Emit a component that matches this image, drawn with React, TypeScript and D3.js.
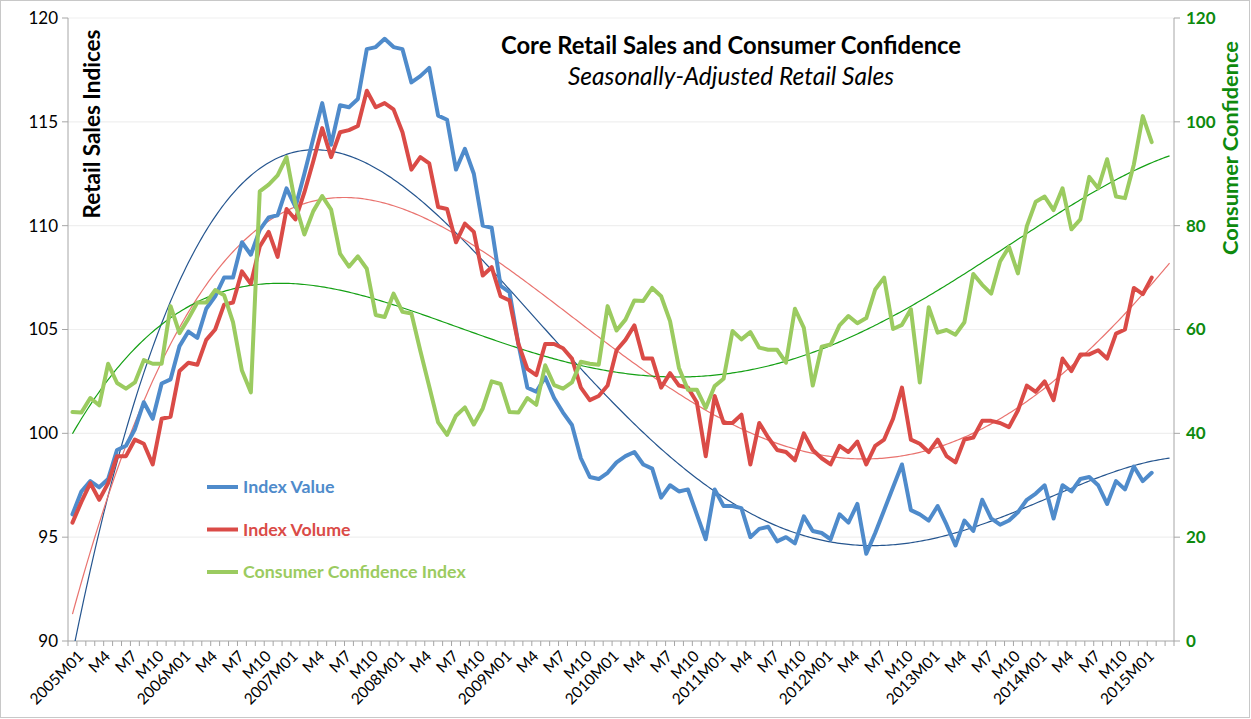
import { useEffect } from 'react'
import * as d3 from 'd3'

const W = 1251
const H = 719
const FONT = 'Lato, "Liberation Sans", Arial, sans-serif'

// 2005M01 .. 2015M04, data runs to 2015M02
const startYear = 2005
const nCats = 124
const categories = d3.range(nCats).map(i => `${startYear + Math.floor(i / 12)}M${String((i % 12) + 1).padStart(2, '0')}`)
const tickLabels = categories.map((c, i) =>
  i % 3 !== 0 || i > 120 ? '' : i % 12 === 0 ? c : `M${(i % 12) + 1}`)

const indexValue = [
  96.1, 97.2, 97.7, 97.4, 97.8, 99.2, 99.4, 100.2, 101.5, 100.7, 102.4, 102.6,
  104.2, 104.9, 104.6, 106.0, 106.6, 107.5, 107.5, 109.2, 108.6, 109.8, 110.4, 110.5,
  111.8, 110.9, 112.5, 114.2, 115.9, 113.9, 115.8, 115.7, 116.1, 118.5, 118.6, 119.0,
  118.6, 118.5, 116.9, 117.2, 117.6, 115.3, 115.1, 112.7, 113.7, 112.5, 110.0, 109.9,
  107.1, 106.8, 104.3, 102.2, 102.0, 102.7, 101.7, 101.0, 100.4, 98.8, 97.9, 97.8,
  98.1, 98.6, 98.9, 99.1, 98.5, 98.3, 96.9, 97.5, 97.2, 97.3, 96.1, 94.9,
  97.3, 96.5, 96.5, 96.4, 95.0, 95.4, 95.5, 94.8, 95.0, 94.7, 96.0, 95.3,
  95.2, 94.9, 96.1, 95.7, 96.6, 94.2, 95.2, 96.3, 97.4, 98.5, 96.3, 96.1,
  95.8, 96.5, 95.6, 94.6, 95.8, 95.3, 96.8, 95.9, 95.6, 95.8, 96.2, 96.8,
  97.1, 97.5, 95.9, 97.5, 97.2, 97.8, 97.9, 97.5, 96.6, 97.7, 97.3, 98.4,
  97.7, 98.1,
]

const indexVolume = [
  95.7, 96.7, 97.6, 96.8, 97.6, 98.9, 98.9, 99.7, 99.5, 98.5, 100.7, 100.8,
  103.0, 103.4, 103.3, 104.5, 105.0, 106.2, 106.3, 107.8, 107.2, 109.0, 109.7, 108.5,
  110.8, 110.3, 111.6, 113.1, 114.7, 113.3, 114.5, 114.6, 114.8, 116.5, 115.7, 115.9,
  115.6, 114.5, 112.7, 113.3, 113.0, 110.9, 110.8, 109.2, 110.1, 109.7, 107.6, 108.0,
  106.6, 106.4, 104.3, 103.1, 102.8, 104.3, 104.3, 104.1, 103.6, 102.2, 101.6, 101.8,
  102.3, 104.0, 104.5, 105.2, 103.6, 103.6, 102.2, 102.9, 102.3, 102.2, 101.5, 98.9,
  101.8, 100.5, 100.5, 100.9, 98.5, 100.5, 99.8, 99.2, 99.1, 98.7, 100.0, 99.2,
  98.8, 98.5, 99.4, 99.1, 99.6, 98.5, 99.4, 99.7, 100.7, 102.2, 99.7, 99.5,
  99.1, 99.7, 98.9, 98.6, 99.7, 99.8, 100.6, 100.6, 100.5, 100.3, 101.1, 102.3,
  102.0, 102.5, 101.6, 103.6, 103.0, 103.8, 103.8, 104.0, 103.6, 104.8, 105.0, 107.0,
  106.7, 107.5,
]

const consumerConfidence = [
  44.1, 44.0, 46.8, 45.4, 53.4, 49.7, 48.6, 49.8, 54.1, 53.4, 53.4, 64.5,
  59.3, 62.1, 65.2, 65.2, 67.6, 66.6, 61.4, 52.1, 47.9, 86.6, 87.9, 89.7,
  93.2, 84.1, 78.3, 82.8, 85.7, 83.1, 74.6, 72.1, 74.1, 71.7, 62.8, 62.4,
  66.9, 63.4, 63.1, 55.9, 49.0, 42.1, 39.7, 43.4, 45.0, 41.7, 44.8, 50.0,
  49.5, 44.1, 44.0, 46.8, 45.5, 53.1, 49.3, 48.6, 49.8, 53.8, 53.4, 53.2,
  64.5, 59.8, 61.9, 65.6, 65.5, 68.0, 66.4, 61.6, 52.6, 48.4, 48.4, 44.9,
  49.1, 50.5, 59.7, 58.1, 59.5, 56.5, 56.1, 56.1, 53.6, 64.0, 60.3, 49.2,
  56.7, 57.1, 60.8, 62.6, 61.2, 62.2, 67.7, 70.0, 60.1, 60.9, 63.9, 49.8,
  64.3, 59.4, 59.9, 59.0, 61.4, 70.7, 68.6, 66.9, 73.1, 75.9, 70.8, 79.9,
  84.6, 85.6, 83.0, 87.2, 79.3, 81.2, 89.4, 87.2, 92.8, 85.6, 85.3, 91.8,
  101.1, 96.1,
]

const leftTicks = [90, 95, 100, 105, 110, 115, 120]
const rightTicks = [0, 20, 40, 60, 80, 100, 120]

const series = [
  { name: 'Index Value', values: indexValue, axis: 'left', color: '#4F8BCB', trend: '#25558F' },
  { name: 'Index Volume', values: indexVolume, axis: 'left', color: '#DA4B47', trend: '#E9736F' },
  { name: 'Consumer Confidence Index', values: consumerConfidence, axis: 'right', color: '#9BCB60', trend: '#14A014' },
]

// least-squares polynomial, like Excel's polynomial trendline
function polyFit(ys: number[], order: number) {
  const n = order + 1
  const A = d3.range(n).map(() => new Array(n + 1).fill(0))
  ys.forEach((y, i) => {
    const x = (i + 1) / 100
    for (let r = 0; r < n; r++) {
      for (let c = 0; c < n; c++) A[r][c] += Math.pow(x, r + c)
      A[r][n] += y * Math.pow(x, r)
    }
  })
  for (let k = 0; k < n; k++) {
    let p = k
    for (let r = k + 1; r < n; r++) if (Math.abs(A[r][k]) > Math.abs(A[p][k])) p = r
    ;[A[k], A[p]] = [A[p], A[k]]
    for (let r = 0; r < n; r++) {
      if (r === k) continue
      const f = A[r][k] / A[k][k]
      for (let c = k; c <= n; c++) A[r][c] -= f * A[k][c]
    }
  }
  const coef = d3.range(n).map(k => A[k][n] / A[k][k])
  return (i: number) => coef.reduce((s, a, k) => s + a * Math.pow((i + 1) / 100, k), 0)
}

export default function App() {
  useEffect(() => { document.body.style.margin = '0' }, [])

  const m = { left: 68, right: 1174, top: 18, bottom: 641 }
  const x = d3.scaleBand<number>().domain(d3.range(nCats)).range([m.left, m.right])
  const cx = (i: number) => (x(0) ?? 0) + (i + 0.5) * x.step()
  const yL = d3.scaleLinear().domain([90, 120]).range([m.bottom, m.top])
  const yR = d3.scaleLinear().domain([0, 120]).range([m.bottom, m.top])

  const lineFor = (axis: string) => d3.line<number>()
    .x((_, i) => cx(i))
    .y(v => (axis === 'left' ? yL(v) : yR(v)))

  // trend forecast forward to the last category
  const trendPts = d3.range(0, nCats - 1 + 0.001, 0.25)

  return (
    <div style={{ position: 'absolute', left: 0, top: 0 }}>
      <svg width={W} height={H} style={{ display: 'block', fontFamily: FONT }}>
        <defs>
          <clipPath id="plot">
            <rect x={m.left} y={m.top} width={m.right - m.left} height={m.bottom - m.top} />
          </clipPath>
        </defs>
        <rect x={0.5} y={0.5} width={W - 2} height={H - 2} fill="#fff" stroke="#c8c8c8" />

        {/* gridlines */}
        {leftTicks.slice(1).map(t => (
          <line key={t} x1={m.left} x2={m.right} y1={yL(t)} y2={yL(t)} stroke="#efefef" strokeWidth={1.2} />
        ))}

        {/* axes */}
        <line x1={m.left} x2={m.left} y1={m.top} y2={m.bottom} stroke="#a6a6a6" />
        <line x1={m.right} x2={m.right} y1={m.top} y2={m.bottom} stroke="#a6a6a6" />
        <line x1={m.left} x2={m.right} y1={m.bottom} y2={m.bottom} stroke="#a6a6a6" />
        {leftTicks.map(t => (
          <g key={t}>
            <line x1={m.left - 6} x2={m.left} y1={yL(t)} y2={yL(t)} stroke="#a6a6a6" />
            <text x={58} y={yL(t)} dy="0.35em" textAnchor="end" fontSize={17} fill="#000">{t}</text>
          </g>
        ))}
        {rightTicks.map(t => (
          <g key={t}>
            <line x1={m.right} x2={m.right + 6} y1={yR(t)} y2={yR(t)} stroke="#a6a6a6" />
            <text x={1186} y={yR(t)} dy="0.35em" fontSize={17} fontWeight="bold" fill="#0E8A0E">{t}</text>
          </g>
        ))}
        {d3.range(nCats + 1).map(i => {
          const xx = m.left + i * x.step()
          return <line key={i} x1={xx} x2={xx} y1={m.bottom} y2={m.bottom + 5} stroke="#a6a6a6" />
        })}
        {tickLabels.map((lab, i) => lab && (
          <text key={i} transform={`translate(${cx(i) + 4},${m.bottom + 8}) rotate(-45)`}
            textAnchor="end" dy="0.75em" fontSize={15.5} fill="#000">{lab}</text>
        ))}

        {/* trendlines */}
        <g clipPath="url(#plot)">
          {series.map(s => {
            const f = polyFit(s.values, 4)
            const sc = s.axis === 'left' ? yL : yR
            const path = d3.line<number>().x(t => cx(t)).y(t => sc(f(t)))(trendPts)
            return <path key={s.name} d={path ?? ''} fill="none" stroke={s.trend} strokeWidth={1.2} />
          })}
        </g>

        {/* series */}
        <g clipPath="url(#plot)">
          {series.map(s => (
            <path key={s.name} d={lineFor(s.axis)(s.values) ?? ''} fill="none" stroke={s.color}
              strokeWidth={4} strokeLinejoin="round" strokeLinecap="round" />
          ))}
        </g>

        {/* legend */}
        {series.map((s, k) => {
          const ly = 487 + k * 42.5
          return (
            <g key={s.name}>
              <line x1={207} x2={238} y1={ly} y2={ly} stroke={s.color} strokeWidth={4} />
              <text x={243} y={ly} dy="0.35em" fontSize={17.8} fontWeight="bold" fill={s.color}>{s.name}</text>
            </g>
          )
        })}

        {/* titles */}
        <text x={731} y={54} textAnchor="middle" fontSize={23.8} fontWeight="bold" fill="#000">
          Core Retail Sales and Consumer Confidence
        </text>
        <text x={731} y={85} textAnchor="middle" fontSize={24.5} fontStyle="italic" fill="#000">
          Seasonally-Adjusted Retail Sales
        </text>
        <text transform="translate(100,124) rotate(-90)" textAnchor="middle" fontSize={22.5} fontWeight="bold" fill="#000">
          Retail Sales Indices
        </text>
        <text transform="translate(1238,148) rotate(-90)" textAnchor="middle" fontSize={21.8} fontWeight="bold" fill="#0E8A0E">
          Consumer Confidence
        </text>
      </svg>
    </div>
  )
}
